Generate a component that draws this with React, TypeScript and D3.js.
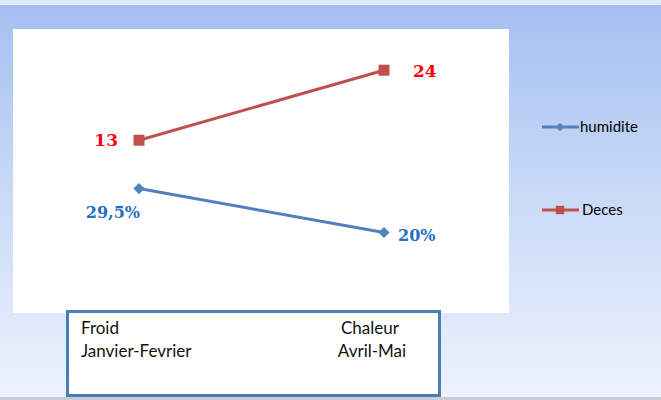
import * as d3 from 'd3';
import React from 'react';

const categories = ['Froid Janvier-Fevrier', 'Chaleur Avril-Mai'];
const decesValues = [13, 24];
const humiditeValues = [29.5, 20];
const decesLabels = ['13', '24'];
const humiditeLabels = ['29,5%', '20%'];
const boxLines = [
  ['Froid', 'Janvier-Fevrier'],
  ['Chaleur', 'Avril-Mai'],
];

const width = 661;
const height = 400;
const red = '#c0504d';
const blue = '#4f81bd';

export default function App() {
  const x = d3.scalePoint<string>().domain(categories).range([139, 384]);
  // two value axes, as in the original sheet (humidite on the secondary one)
  const yDeces = d3.scaleLinear().domain([0, 30]).range([223, 32]);
  const yHum = d3.scaleLinear().domain([0, 40]).range([325, 140]);

  const lineDeces = d3
    .line<number>()
    .x((d, i) => x(categories[i]) as number)
    .y((d) => yDeces(d));
  const lineHum = d3
    .line<number>()
    .x((d, i) => x(categories[i]) as number)
    .y((d) => yHum(d));

  const square = d3.symbol().type(d3.symbolSquare).size(121)();
  const diamond = d3.symbol().type(d3.symbolSquare).size(62)();
  const legSquare = d3.symbol().type(d3.symbolSquare).size(70)();
  const legDiamond = d3.symbol().type(d3.symbolSquare).size(36)();

  return (
    <svg
      width={width}
      height={height}
      style={{ position: 'absolute', left: 0, top: 0 }}
    >
      <defs>
        <linearGradient id="bg" x1="0" y1="0" x2="0" y2="1">
          <stop offset="0" stopColor="#a4bff0" />
          <stop offset="0.45" stopColor="#c6d8f6" />
          <stop offset="1" stopColor="#edf3fd" />
        </linearGradient>
      </defs>
      <rect x={0} y={0} width={width} height={height} fill="url(#bg)" />
      <rect x={0} y={0} width={width} height={5} fill="#dcedf9" />
      <rect x={0} y={397} width={width} height={3} fill="#c9ccd2" />

      {/* plot area */}
      <rect x={13} y={29} width={496} height={284} fill="#ffffff" />

      <path d={lineDeces(decesValues) as string} fill="none" stroke={red} strokeWidth={3} />
      <path d={lineHum(humiditeValues) as string} fill="none" stroke={blue} strokeWidth={3} />

      {decesValues.map((v, i) => (
        <path
          key={'d' + i}
          d={square as string}
          transform={`translate(${x(categories[i])},${yDeces(v)})`}
          fill={red}
        />
      ))}
      {humiditeValues.map((v, i) => (
        <path
          key={'h' + i}
          d={diamond as string}
          transform={`translate(${x(categories[i])},${yHum(v)}) rotate(45)`}
          fill={blue}
        />
      ))}

      <g fontFamily="DejaVu Serif" fontWeight="bold" fontSize={17}>
        <text x={(x(categories[0]) as number) - 21} y={yDeces(decesValues[0]) + 6} textAnchor="end" fill="#ff0000">
          {decesLabels[0]}
        </text>
        <text x={(x(categories[1]) as number) + 29} y={yDeces(decesValues[1]) + 7} fill="#ff0000">
          {decesLabels[1]}
        </text>
        <text x={(x(categories[0]) as number) + 1} y={yHum(humiditeValues[0]) + 29} textAnchor="end" fill="#1f6fc5" fontSize={16}>
          {humiditeLabels[0]}
        </text>
        <text x={(x(categories[1]) as number) + 14} y={yHum(humiditeValues[1]) + 8} fill="#1f6fc5" fontSize={16}>
          {humiditeLabels[1]}
        </text>
      </g>

      {/* legend */}
      <g fontFamily="Lato" fontSize={15} fill="#000">
        <line x1={542} x2={579} y1={127} y2={127} stroke={blue} strokeWidth={3} />
        <path d={legDiamond as string} transform="translate(560,127) rotate(45)" fill={blue} />
        <text x={580} y={132}>humidite</text>
        <line x1={542} x2={579} y1={210} y2={210} stroke={red} strokeWidth={3} />
        <path d={legSquare as string} transform="translate(560,210)" fill={red} />
        <text x={582} y={215}>Deces</text>
      </g>

      {/* category box */}
      <rect x={67.5} y={311.5} width={372} height={84} fill="#ffffff" stroke="#4a7ebb" strokeWidth={3} />
      <g fontFamily="Lato" fontSize={17} fill="#111">
        <text x={81} y={334}>{boxLines[0][0]}</text>
        <text x={81} y={357}>{boxLines[0][1]}</text>
        <text x={370} y={334} textAnchor="middle">{boxLines[1][0]}</text>
        <text x={372} y={357} textAnchor="middle">{boxLines[1][1]}</text>
      </g>
    </svg>
  );
}
